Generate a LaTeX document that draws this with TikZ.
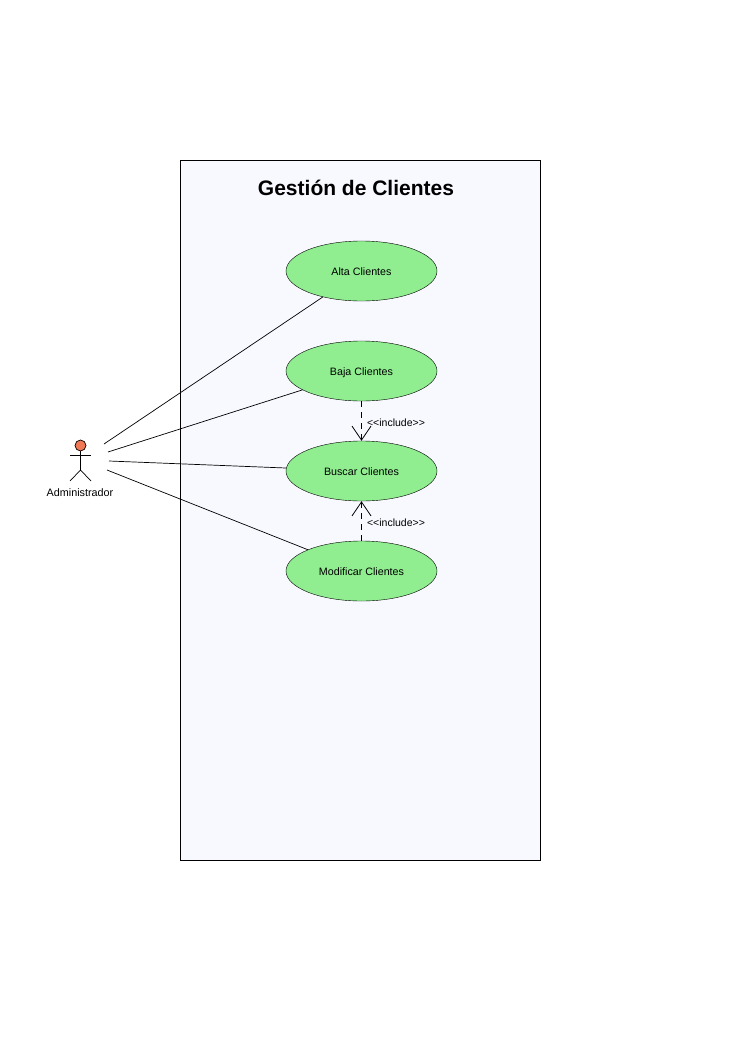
\documentclass[tikz,border=0pt]{standalone}
\usepackage{fontspec}
\setmainfont{Liberation Sans}
\definecolor{UCGreen}{RGB}{144,238,144}
\definecolor{UCPanel}{RGB}{248,249,255}
\definecolor{UCHead}{RGB}{240,120,85}
\usetikzlibrary{shapes.geometric,arrows.meta,positioning}

\begin{document}
\begin{tikzpicture}[
        x=1pt, y=-1pt,
        node distance=39.6pt,
        usecase/.style={ellipse, draw=black, fill=UCGreen, minimum width=151pt, minimum height=60pt,
                        inner sep=0pt, text height=11pt, text depth=2pt, font=\fontsize{10.7}{12}\selectfont},
        assoc/.style={draw, black, line width=0.7pt},
        include/.style={draw, black, line width=0.8pt, dash pattern=on 6pt off 5pt,
                        -{Straight Barb[length=14pt,width=19pt,line width=0.8pt]}},
        limb/.style={draw, black, line width=0.7pt},
        tag/.style={font=\fontsize{10.5}{12}\selectfont, inner sep=0pt}
    ]
        \useasboundingbox (0,0) rectangle (735,1039);
        \fill[white] (0,0) rectangle (735,1039);
        \node[draw=black, fill=UCPanel, line width=0.6pt, minimum width=360pt, minimum height=700pt,
              inner sep=0pt] (panel) at (360.5,510.5) {};
        \node[font=\bfseries\fontsize{21}{24}\selectfont] (title) at (356,188) {Gestión de Clientes};

        \node[usecase] (alta) at (361.5,271) {Alta Clientes};
        \node[usecase, below=of alta]   (baja)      {Baja Clientes};
        \node[usecase, below=of baja]   (buscar)    {Buscar Clientes};
        \node[usecase, below=of buscar] (modificar) {Modificar Clientes};

        % actor
        \node[circle, draw=black, fill=UCHead, minimum size=11pt, inner sep=0pt, line width=0.7pt] (head) at (80.5,445.5) {};
        \coordinate (hip)  at (80.5,470);
        \coordinate (handl) at (70,455);
        \coordinate (handr) at (91,455);
        \coordinate (footl) at (70,481);
        \coordinate (footr) at (91,481);
        \path[limb] (head) -- (hip);
        \path[limb] (handl) -- (handr);
        \path[limb] (footl) -- (hip) -- (footr);
        \node[font=\fontsize{10.8}{12}\selectfont] (actor) at (80,492.5) {Administrador};

        \coordinate (a1) at (104,444);
        \coordinate (a2) at (108,452);
        \coordinate (a3) at (109,461);
        \coordinate (a4) at (107,470);
        \path[assoc] (a1) -- (alta);
        \path[assoc] (a2) -- (baja);
        \path[assoc] (a3) -- (buscar);
        \path[assoc] (a4) -- (modificar);

        \path[include] (baja) -- (buscar);
        \path[include] (modificar) -- (buscar);
        \node[tag] (inc1) at (396,422.5) {{<}{<}include{>}{>}};
        \node[tag] (inc2) at (396,522.5) {{<}{<}include{>}{>}};
    \end{tikzpicture}
\end{document}
